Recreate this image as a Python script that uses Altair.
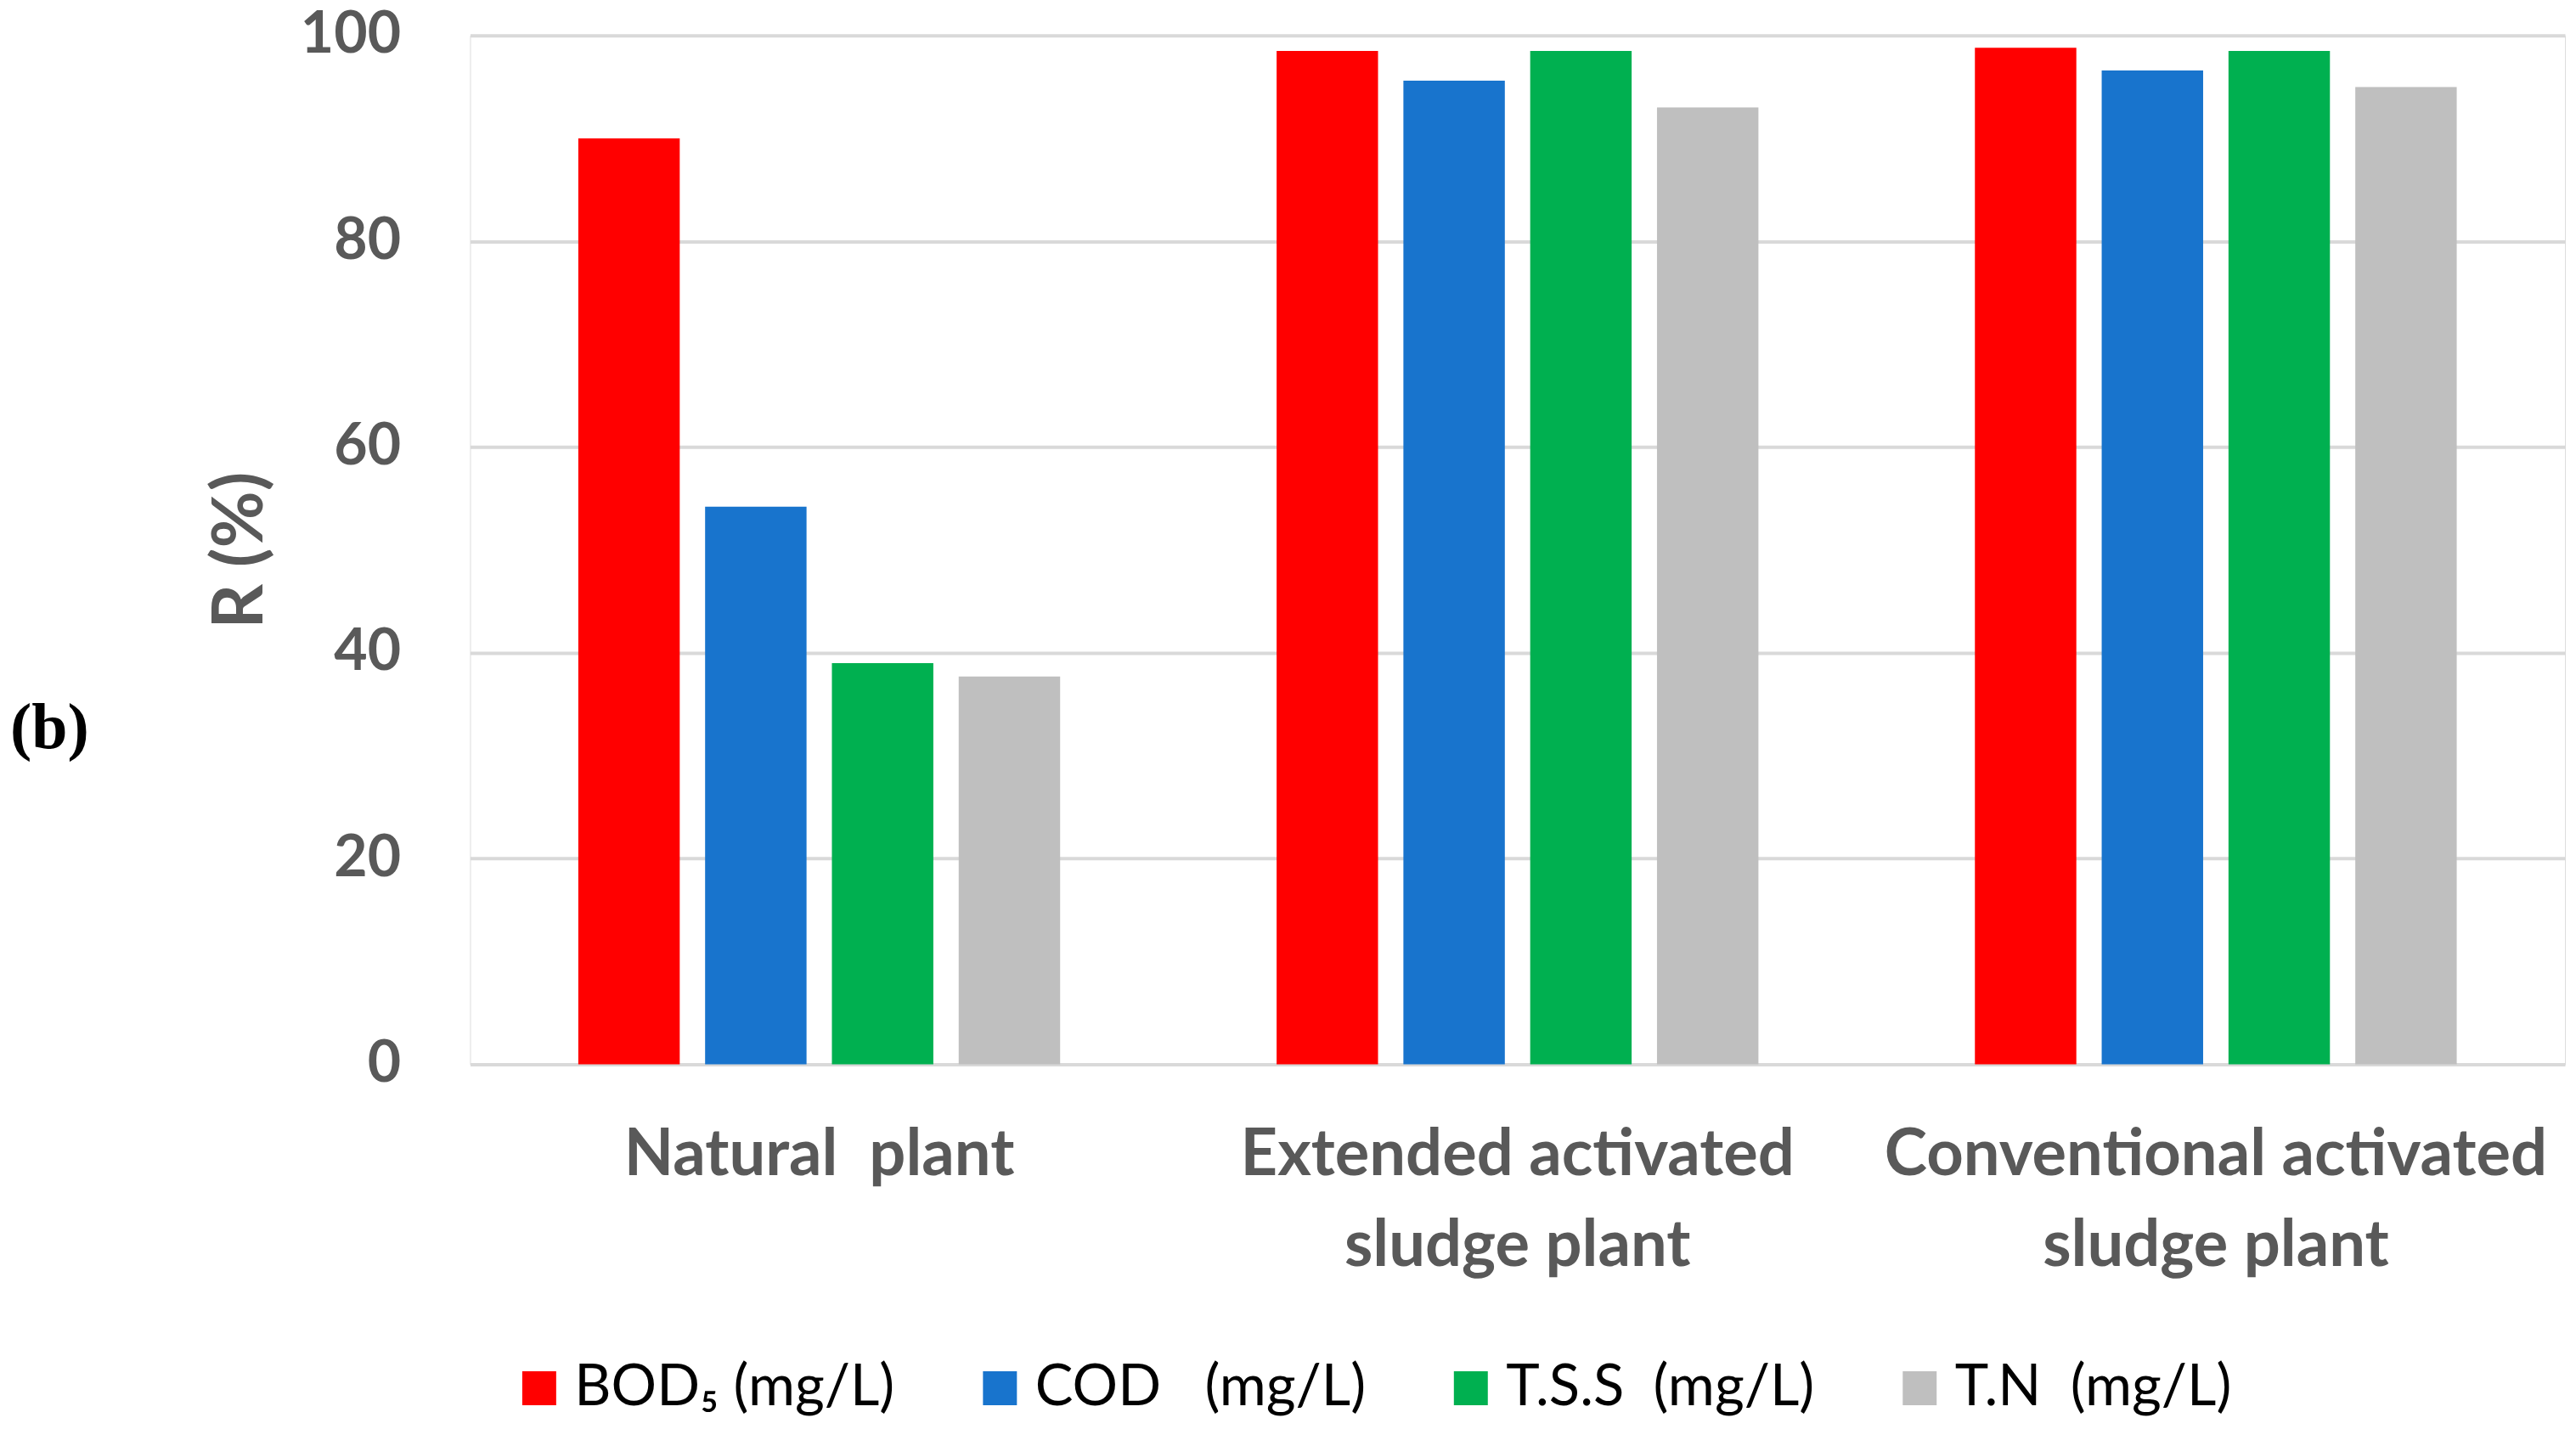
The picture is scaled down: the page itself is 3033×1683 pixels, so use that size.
import json
import altair as alt
import pandas as pd

# ---- data ----
plants = ["Natural plant", "Extended activated sludge plant", "Conventional activated sludge plant"]
plant_lines = [["Natural\u00a0\u00a0plant"], ["Extended activated", "sludge plant"], ["Conventional activated", "sludge plant"]]
params = ["BOD\u2085 (mg/L)", "COD\u00a0\u00a0\u00a0(mg/L)", "T.S.S\u00a0\u00a0(mg/L)", "T.N\u00a0\u00a0(mg/L)"]
colors = ["#FF0000", "#1874CD", "#00B050", "#BFBFBF"]
bod5 = [90.0, 98.5, 98.8]
cod = [54.2, 95.6, 96.6]
tss = [39.0, 98.5, 98.5]
tn = [37.7, 93.0, 95.0]
y_ticks = [0, 20, 40, 60, 80, 100]

rows = []
for series_name, vals in zip(params, [bod5, cod, tss, tn]):
    for p, v in zip(plants, vals):
        rows.append({"plant": p, "param": series_name, "R": v})
df = pd.DataFrame(rows)

# multi-line x labels
expr = "''"
for p, lines in reversed(list(zip(plants, plant_lines))):
    expr = f"datum.value == {json.dumps(p)} ? {json.dumps(lines)} : ({expr})"

FONT = "Lato"
AXIS_GRAY = "#595959"
PLOT_H = 1213

bars = alt.Chart(df).mark_bar().encode(
    x=alt.X("plant:N", sort=plants,
            scale=alt.Scale(paddingInner=0.31, paddingOuter=0.155),
            axis=alt.Axis(title=None, labelAngle=0, labelExpr=expr, labelFont=FONT,
                          labelFontSize=76, labelFontWeight="bold", labelColor=AXIS_GRAY,
                          labelPadding=70, labelLineHeight=107, labelBaseline="top",
                          domain=False, ticks=False, grid=False, labelLimit=1000)),
    xOffset=alt.XOffset("param:N", sort=params,
                        scale=alt.Scale(paddingInner=0.2, paddingOuter=0)),
    y=alt.Y("R:Q", scale=alt.Scale(domain=[0, 100], nice=False),
            axis=alt.Axis(title="R (%)", values=y_ticks, labelFont=FONT, labelFontSize=68,
                          labelFontWeight="bold", labelColor=AXIS_GRAY, labelPadding=82,
                          domain=False, ticks=False, grid=True, gridColor="#D9D9D9",
                          gridWidth=4, titleFont=FONT, titleFontSize=82,
                          titleFontWeight="bold", titleColor=AXIS_GRAY, titleAngle=270,
                          titleX=-270, titleY=PLOT_H / 2, titleAlign="center",
                          titleBaseline="middle")),
    color=alt.Color("param:N", sort=params,
                    scale=alt.Scale(domain=params, range=colors),
                    legend=alt.Legend(title=None, orient="none", legendX=48, legendY=1561,
                                      direction="horizontal", symbolType="square",
                                      symbolSize=1600, symbolStrokeWidth=0,
                                      labelFont=FONT, labelFontSize=67, labelColor="#000000",
                                      labelOffset=8, columnPadding=90, labelLimit=1000)),
)

tag = alt.Chart(pd.DataFrame({"t": ["(b)"]})).mark_text(
    font="Liberation Serif", fontSize=76, fontWeight="bold", color="#000000",
    align="left", baseline="middle"
).encode(text="t:N", x=alt.value(-542), y=alt.value(817))

chart = alt.layer(bars, tag).properties(
    width=2469, height=PLOT_H,
    autosize=alt.AutoSizeParams(type="none"),
    padding={"left": 546, "top": 33, "right": 5, "bottom": 428},
).configure_view(stroke=None).configure(background="white")

chart.save("out.html", embed_options={"renderer": "svg", "actions": False})
